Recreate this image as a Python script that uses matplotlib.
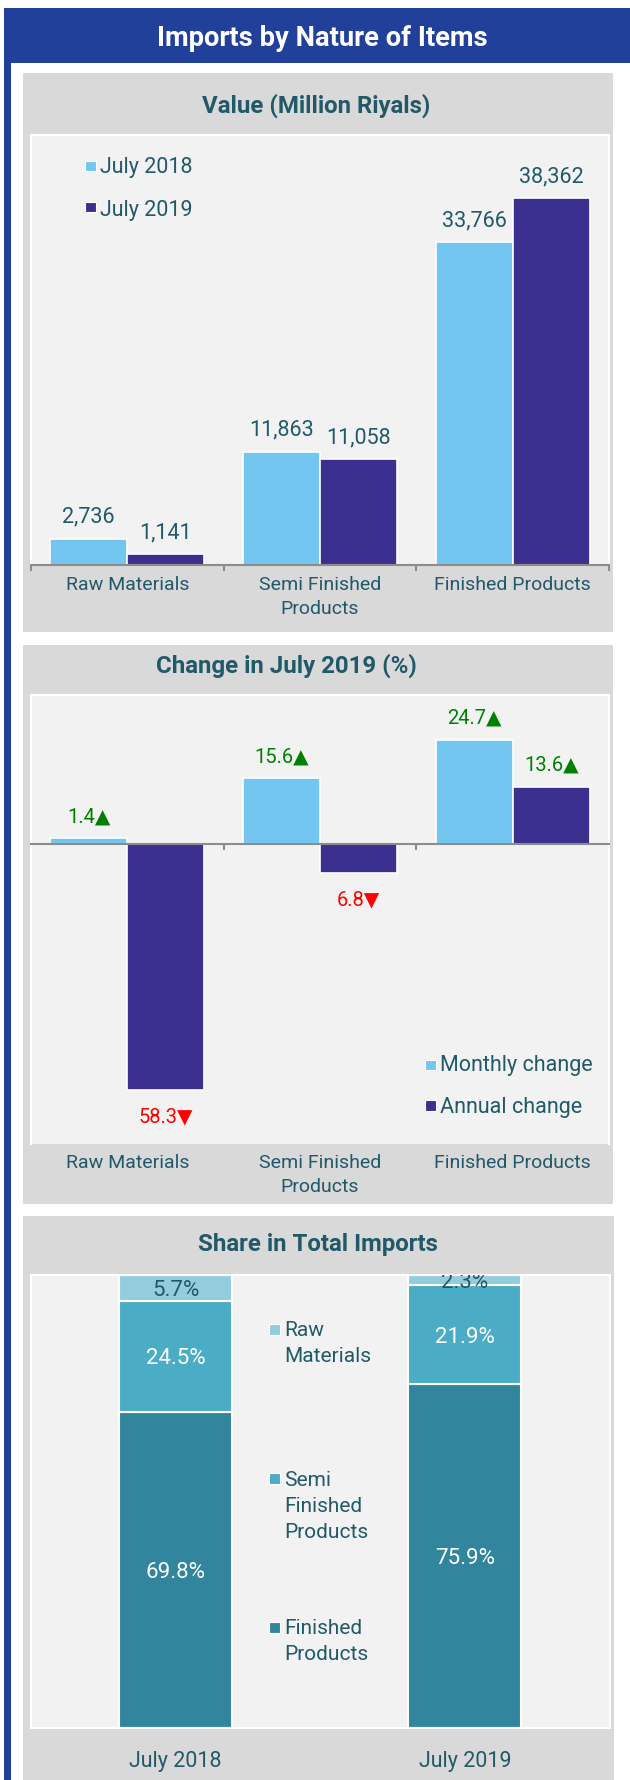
import matplotlib
matplotlib.use('Agg')
import matplotlib.pyplot as plt
from matplotlib.patches import Rectangle
import numpy as np

plt.rcParams['font.family'] = ['Roboto', 'DejaVu Sans']

# ---------------- data ----------------
categories = ['Raw Materials', 'Semi Finished\nProducts', 'Finished Products']
value_series = ['July 2018', 'July 2019']
value_2018 = [2736, 11863, 33766]
value_2019 = [1141, 11058, 38362]

change_series = ['Monthly change', 'Annual change']
change_monthly = [1.4, 15.6, 24.7]
change_annual = [-58.3, -6.8, 13.6]

share_periods = ['July 2018', 'July 2019']
share_series = ['Raw\nMaterials', 'Semi\nFinished\nProducts', 'Finished\nProducts']
share_raw = [5.7, 2.3]
share_semi = [24.5, 21.9]
share_finished = [69.8, 75.9]

# ---------------- style ----------------
BLUE = '#21409A'
GREY = '#D9D9D9'
PLOT = '#F2F2F2'
TEAL = '#215968'
C18 = '#73C6EF'
C19 = '#3B2F8F'
AXIS = '#8C8C8C'
RAW = '#93CDDD'
SEMI = '#4BACC6'
FIN = '#31859C'
GREEN = '#008000'
RED = '#FF0000'

W, H, DPI = 630, 1780, 100
fig = plt.figure(figsize=(W / DPI, H / DPI), dpi=DPI, facecolor='white')


def pt(p):
    return p * 72 / DPI


def rect(x0, y0, x1, y1, color, z=-5, ec='none', lw=0):
    fig.add_artist(Rectangle((x0 / W, 1 - y1 / H), (x1 - x0) / W, (y1 - y0) / H,
                             transform=fig.transFigure, facecolor=color,
                             edgecolor=ec, linewidth=lw, zorder=z))


def axes_px(x0, y0, x1, y1):
    return fig.add_axes([x0 / W, 1 - y1 / H, (x1 - x0) / W, (y1 - y0) / H])


def ftext(x, y, s, **kw):
    fig.text(x / W, 1 - y / H, s, **kw)


def legend_item(x, y_top, y_bot, ypos, color, label, fs, va='baseline'):
    rect(x, y_top, x + 11, y_bot, color, z=5, ec='white', lw=0.8)
    ftext(x + 15, ypos, label, color=TEAL, fontsize=fs, ha='left',
          va=va, linespacing=1.48)


# ---------------- frame ----------------
rect(4, 8, 630, 63, BLUE)
rect(4, 8, 10.5, 1780, BLUE)
ftext(322, 46, 'Imports by Nature of Items', color='white', fontsize=19.7,
      fontweight='bold', ha='center', va='baseline')

rect(23, 73, 613, 632, GREY)
rect(23, 645, 613, 1204, GREY)
rect(23, 1216, 614, 1780, GREY)

ftext(316, 113, 'Value (Million Riyals)', color=TEAL, fontsize=17.3,
      fontweight='bold', ha='center', va='baseline')
ftext(286, 673, 'Change in July 2019 (%)', color=TEAL, fontsize=17.3,
      fontweight='bold', ha='center', va='baseline')
ftext(318, 1251, 'Share in Total Imports', color=TEAL, fontsize=17.3,
      fontweight='bold', ha='center', va='baseline')


def style_axes(ax):
    ax.set_facecolor(PLOT)
    for s in ['top', 'left', 'right', 'bottom']:
        ax.spines[s].set_color('white')
        ax.spines[s].set_linewidth(1.5)
    ax.set_yticks([])


# ---------------- panel 1 ----------------
x = np.arange(len(categories))
bw = 0.4
ax1 = axes_px(31, 135, 609, 565)
style_axes(ax1)
bars18 = ax1.bar(x - bw / 2, value_2018, bw, color=C18, edgecolor='white', linewidth=1.2)
bars19 = ax1.bar(x + bw / 2, value_2019, bw, color=C19, edgecolor='white', linewidth=1.2)
ax1.set_xlim(-0.5, 2.5)
ax1.set_ylim(0, 45000)
ax1.spines['bottom'].set_color(AXIS)
ax1.set_xticks(np.arange(len(categories) + 1) - 0.5)
ax1.set_xticklabels([])
ax1.tick_params(axis='x', length=pt(6), width=1.5, color=AXIS, direction='out')
for bars, vals in ((bars18, value_2018), (bars19, value_2019)):
    for b, v in zip(bars, vals):
        ax1.annotate(f'{v:,}', xy=(b.get_x() + b.get_width() / 2, v),
                     xytext=(0, pt(16)), textcoords='offset points',
                     ha='center', va='baseline', fontsize=15.5, color=TEAL)
for i, c in enumerate(categories):
    ax1.annotate(c, xy=(i, 0), xycoords=('data', 'axes fraction'),
                 xytext=(0, -pt(11)), textcoords='offset points',
                 ha='center', va='top', fontsize=14, color=TEAL,
                 linespacing=1.45, annotation_clip=False)
legend_item(85, 160.5, 171, 173, C18, value_series[0], 15.5)
legend_item(85, 201.5, 212, 216, C19, value_series[1], 15.5)

# ---------------- panel 2 ----------------
ax2 = axes_px(31, 695, 609, 1144)
style_axes(ax2)
cb1 = ax2.bar(x - bw / 2, change_monthly, bw, color=C18, edgecolor='white', linewidth=1.2)
cb2 = ax2.bar(x + bw / 2, change_annual, bw, color=C19, edgecolor='white', linewidth=1.2)
ax2.set_xlim(-0.5, 2.5)
ax2.set_ylim(-71.1, 35.3)
ax2.spines['bottom'].set_position(('data', 0))
ax2.spines['bottom'].set_color(AXIS)
ax2.set_xticks(np.arange(len(categories) + 1) - 0.5)
ax2.set_xticklabels([])
ax2.tick_params(axis='x', length=pt(6), width=1.5, color=AXIS, direction='out')
for bars, vals in ((cb1, change_monthly), (cb2, change_annual)):
    for b, v in zip(bars, vals):
        cx = b.get_x() + b.get_width() / 2
        if v >= 0:
            ax2.annotate(f'{abs(v):.1f}\u25B2', xy=(cx, v), xytext=(0, pt(16)),
                         textcoords='offset points', ha='center', va='baseline',
                         fontsize=14.5, color=GREEN)
        else:
            ax2.annotate(f'{abs(v):.1f}\u25BC', xy=(cx, v), xytext=(0, -pt(33)),
                         textcoords='offset points', ha='center', va='baseline',
                         fontsize=14.5, color=RED)
for i, c in enumerate(categories):
    ax2.annotate(c, xy=(i, 0), xycoords=('data', 'axes fraction'),
                 xytext=(0, -pt(10)), textcoords='offset points',
                 ha='center', va='top', fontsize=14, color=TEAL,
                 linespacing=1.45, annotation_clip=False)
legend_item(425, 1059.5, 1070, 1071.5, C18, change_series[0], 15.5)
legend_item(425, 1100, 1110.5, 1112.5, C19, change_series[1], 15.5)

# ---------------- panel 3 ----------------
x3 = np.arange(len(share_periods))
bw3 = 0.39
ax3 = axes_px(31, 1275, 609.5, 1728)
style_axes(ax3)
ax3.set_xticks([])
fin = np.array(share_finished)
semi = np.array(share_semi)
raw = np.array(share_raw)
s1 = ax3.bar(x3, fin, bw3, color=FIN, edgecolor='white', linewidth=1.5)
s2 = ax3.bar(x3, semi, bw3, bottom=fin, color=SEMI, edgecolor='white', linewidth=1.5)
s3 = ax3.bar(x3, raw, bw3, bottom=fin + semi, color=RAW, edgecolor='white', linewidth=1.5)
ax3.set_xlim(-0.5, 1.5)
ax3.set_ylim(0, 100)
for bars, vals, bots, col in ((s1, fin, np.zeros(2), 'white'),
                              (s2, semi, fin, 'white'),
                              (s3, raw, fin + semi, TEAL)):
    for b, v, bt in zip(bars, vals, bots):
        ax3.text(b.get_x() + b.get_width() / 2, bt + v / 2, f'{v:.1f}%',
                 ha='center', va='center_baseline', fontsize=16, color=col,
                 clip_on=True)
for i, p in enumerate(share_periods):
    ax3.annotate(p, xy=(i, 0), xycoords=('data', 'axes fraction'),
                 xytext=(0, -pt(39)), textcoords='offset points',
                 ha='center', va='baseline', fontsize=15.5, color=TEAL,
                 annotation_clip=False)
legend_item(269, 1324, 1335, 1321, RAW, share_series[0], 15, va='top')
legend_item(269, 1473, 1484, 1471, SEMI, share_series[1], 15, va='top')
legend_item(269, 1622, 1633, 1619, FIN, share_series[2], 15, va='top')

fig.savefig('out.png', dpi=DPI, facecolor='white')
